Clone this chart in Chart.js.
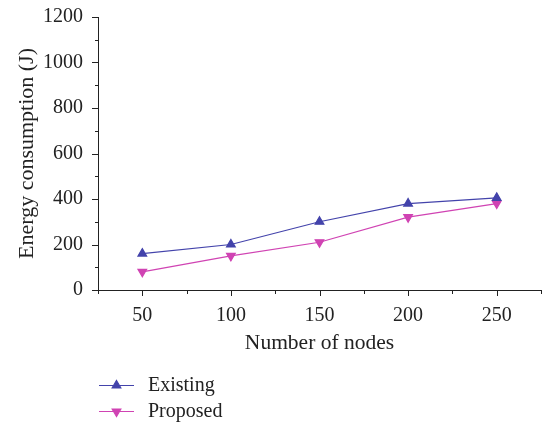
<!DOCTYPE html>
<html>
<head>
<meta charset="utf-8">
<script src="https://cdn.jsdelivr.net/npm/chart.js@4/dist/chart.umd.min.js"></script>
<style>
  html, body { margin: 0; padding: 0; background: #fff; }
  canvas { display: block; }
</style>
</head>
<body>
<canvas id="chart" width="542" height="426"></canvas>
<script>
// data
const nodes = [50, 100, 150, 200, 250];
const existing = [160, 200, 300, 380, 405];
const proposed = [80, 150, 210, 320, 380];
const seriesNames = ['Existing', 'Proposed'];

const FONT = '"Liberation Serif", "DejaVu Serif", serif';
const BLUE = '#4343ab';
const PINK = '#d043b3';

// tick marks: long for labelled ticks, short for the minor ones
const tickMarks = {
	id: 'tickMarks',
	afterDraw( chart ) {
		const ctx = chart.ctx;
		const x = chart.scales.x;
		const y = chart.scales.y;
		ctx.save();
		ctx.strokeStyle = '#222';
		ctx.lineWidth = 1;
		ctx.beginPath();
		x.ticks.forEach( t => {
			const px = Math.round( x.getPixelForValue( t.value ) ) + 0.5;
			const len = t.value % 50 === 0 ? 6 : 4;
			ctx.moveTo( px, x.top );
			ctx.lineTo( px, x.top + len );
		} );
		y.ticks.forEach( t => {
			const py = Math.round( y.getPixelForValue( t.value ) ) + 0.5;
			const len = t.value % 200 === 0 ? 6 : 3;
			ctx.moveTo( y.right, py );
			ctx.lineTo( y.right - len, py );
		} );
		ctx.stroke();
		ctx.restore();
	}
};

// legend below the axis: short line with the marker, then the name
const lineLegend = {
	id: 'lineLegend',
	afterDraw( chart ) {
		const ctx = chart.ctx;
		ctx.save();
		chart.data.datasets.forEach( ( ds, i ) => {
			const cy = 385 + i * 26;
			ctx.strokeStyle = ds.borderColor;
			ctx.lineWidth = ds.borderWidth;
			ctx.beginPath();
			ctx.moveTo( 99, cy + 0.5 );
			ctx.lineTo( 134, cy + 0.5 );
			ctx.stroke();
			ctx.fillStyle = ds.pointBackgroundColor;
			Chart.helpers.drawPoint( ctx, {
				pointStyle: ds.pointStyle,
				rotation: ds.pointRotation,
				radius: ds.pointRadius,
				borderWidth: 1
			}, 116.5, cy + 0.5 );
			ctx.fillStyle = '#222';
			ctx.font = '20px ' + FONT;
			ctx.textBaseline = 'middle';
			ctx.fillText( ds.label, 148, cy + 1 );
		} );
		ctx.restore();
	}
};

const mk = ( values ) => nodes.map( ( n, i ) => ( { x: n, y: values[ i ] } ) );

new Chart( document.getElementById( 'chart' ), {
	type: 'line',
	data: {
		datasets: [
			{
				label: seriesNames[ 0 ],
				data: mk( existing ),
				borderColor: BLUE,
				backgroundColor: BLUE,
				pointBackgroundColor: BLUE,
				pointBorderColor: BLUE,
				borderWidth: 1.2,
				pointStyle: 'triangle',
				pointRotation: 0,
				pointRadius: 5
			},
			{
				label: seriesNames[ 1 ],
				data: mk( proposed ),
				borderColor: PINK,
				backgroundColor: PINK,
				pointBackgroundColor: PINK,
				pointBorderColor: PINK,
				borderWidth: 1.2,
				pointStyle: 'triangle',
				pointRotation: 180,
				pointRadius: 5
			}
		]
	},
	options: {
		responsive: false,
		animation: false,
		devicePixelRatio: 1,
		layout: { autoPadding: false, padding: { top: 17, right: 1, bottom: 70, left: 0 } },
		plugins: {
			legend: { display: false },
			tooltip: { enabled: false }
		},
		scales: {
			x: {
				type: 'linear',
				min: 25,
				max: 275,
				afterFit: s => { s.height = 66; s.paddingLeft = 0; s.paddingRight = 0; },
				border: { display: true, color: '#222', width: 1 },
				grid: { drawOnChartArea: false, drawTicks: false },
				ticks: {
					stepSize: 25,
					padding: 14,
					autoSkip: false,
					maxRotation: 0,
					color: '#222',
					font: { family: FONT, size: 20 },
					callback: v => ( v % 50 === 0 && v >= 50 && v <= 250 ) ? String( v ) : ''
				},
				title: {
					display: true,
					text: 'Number of nodes',
					color: '#222',
					font: { family: FONT, size: 21.5 },
					padding: { top: 5, bottom: 0 }
				}
			},
			y: {
				min: 0,
				max: 1200,
				afterFit: s => { s.width = 98; s.paddingTop = 0; s.paddingBottom = 0; },
				border: { display: true, color: '#222', width: 1 },
				grid: { drawOnChartArea: false, drawTicks: false },
				ticks: {
					stepSize: 100,
					padding: 15,
					autoSkip: false,
					color: '#222',
					font: { family: FONT, size: 20 },
					callback: v => v % 200 === 0 ? String( v ) : ''
				},
				title: {
					display: true,
					text: 'Energy consumption (J)',
					color: '#222',
					font: { family: FONT, size: 22 },
					padding: { top: 14, bottom: 4 }
				}
			}
		}
	},
	plugins: [ tickMarks, lineLegend ]
} );
</script>
</body>
</html>
